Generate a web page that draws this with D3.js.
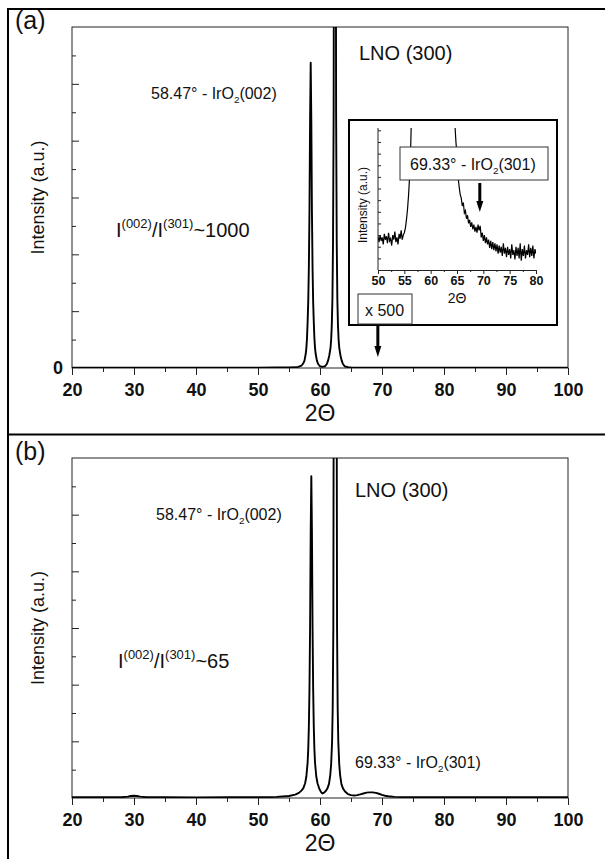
<!DOCTYPE html>
<html>
<head>
<meta charset="utf-8">
<script src="https://cdn.jsdelivr.net/npm/d3@7"></script>
<style>
  body { margin: 0; background: #fff; }
  svg text { font-family: "Liberation Sans", Arial, sans-serif; fill: #111; }
</style>
</head>
<body>
<svg id="chart" width="605" height="859"></svg>
<script>
// XRD DATA (arbitrary intensity units)

// panel (a)
var thetaA = [20, 25, 30, 35, 40, 45, 50, 53, 55, 56, 56.5, 57, 57.3, 57.5, 57.7, 57.8, 57.9, 58, 58.1, 58.2, 58.3, 58.4, 58.5,
  58.6, 58.7, 58.8, 58.9, 59, 59.1, 59.2, 59.3, 59.5, 59.7, 60, 60.4, 60.8, 61.1, 61.3, 61.5, 61.7, 61.8, 61.9, 62, 62.1,
  62.2, 62.3, 62.4, 62.5, 62.6, 62.7, 62.8, 62.9, 63, 63.1, 63.3, 63.5, 63.7, 64, 64.5, 65, 67, 70, 75, 80, 85, 90, 95, 100];
var intA = [0.005, 0.004, 0.006, 0.005, 0.004, 0.005, 0.006, 0.008, 0.01, 0.012, 0.02, 0.04, 0.08, 0.13, 0.25, 0.35, 0.52, 0.8, 1.15, 1.75, 2.75, 4.35, 5.37,
  4.35, 2.75, 1.75, 1.15, 0.8, 0.52, 0.35, 0.25, 0.13, 0.07, 0.03, 0.02, 0.03, 0.07, 0.13, 0.22, 0.36, 0.5, 0.75, 1.2, 2.2,
  4.5, 12, 60, 12, 4.5, 2.2, 1.2, 0.75, 0.5, 0.36, 0.22, 0.13, 0.07, 0.03, 0.015, 0.01, 0.006, 0.005, 0.004, 0.005, 0.004, 0.005, 0.006, 0.005];

// panel (b)
var thetaB = [20, 25, 28, 29, 29.5, 30, 30.5, 31, 32, 35, 40, 45, 50, 53, 55, 56, 56.6, 57, 57.3, 57.6, 57.8, 58, 58.1, 58.2, 58.3, 58.4, 58.5, 58.6,
  58.7, 58.8, 58.9, 59, 59.1, 59.2, 59.4, 59.6, 59.9, 60.2, 60.4, 60.6, 60.9, 61.2, 61.45, 61.65, 61.8, 61.95, 62.05, 62.15, 62.2, 62.25, 62.35, 62.45,
  62.55, 62.65, 62.7, 62.75, 62.85, 62.95, 63.1, 63.25, 63.45, 63.7, 64, 64.5, 65, 65.5, 66, 66.5, 67, 67.5, 68, 68.5, 69, 69.5, 70, 70.5, 71, 72, 74,
  80, 90, 95, 100];
var intB = [0.012, 0.012, 0.015, 0.025, 0.035, 0.04, 0.035, 0.025, 0.015, 0.012, 0.01, 0.012, 0.012, 0.02, 0.035, 0.06, 0.09, 0.13, 0.17, 0.26, 0.38, 0.62, 0.85, 1.25, 1.9, 3.0, 4.7, 5.68,
  4.7, 3.0, 1.9, 1.25, 0.85, 0.62, 0.38, 0.26, 0.16, 0.1, 0.08, 0.09, 0.12, 0.17, 0.25, 0.4, 0.6, 1.0, 1.6, 3.0, 6.5, 8.5, 14, 30,
  14, 8.5, 6.5, 3.0, 1.6, 1.0, 0.6, 0.4, 0.25, 0.17, 0.12, 0.07, 0.05, 0.045, 0.05, 0.065, 0.08, 0.095, 0.1, 0.1, 0.09, 0.075, 0.055, 0.04, 0.03, 0.02, 0.015,
  0.012, 0.012, 0.014, 0.012];

// inset of panel (a), x 500
var thetaInset = [50, 50.2, 50.4, 50.6, 50.8, 51, 51.2, 51.4, 51.6, 51.8, 52, 52.2, 52.4, 52.6, 52.8, 53, 53.2, 53.4, 53.6, 53.8,
  54, 54.2, 54.4, 54.6, 54.8, 55, 55.2, 55.4, 55.6, 55.8, 56, 56.2, 56.4, 56.6, 57, 58.5, 60.4, 62.4, 64, 64.4, 64.6, 64.8,
  65, 65.2, 65.4, 65.6, 65.8, 66, 66.2, 66.4, 66.6, 66.8, 67, 67.2, 67.4, 67.6, 67.8, 68, 68.2, 68.4, 68.6, 68.8, 69, 69.2,
  69.4, 69.6, 69.8, 70, 70.2, 70.4, 70.6, 70.8, 71, 71.2, 71.4, 71.6, 71.8, 72, 72.2, 72.4, 72.6, 72.8, 73, 73.2, 73.4, 73.6,
  73.8, 74, 74.2, 74.4, 74.6, 74.8, 75, 75.2, 75.4, 75.6, 75.8, 76, 76.2, 76.4, 76.6, 76.8, 77, 77.2, 77.4, 77.6, 77.8, 78,
  78.2, 78.4, 78.6, 78.8, 79, 79.2, 79.4, 79.6, 79.8, 80];
var intInset = [2.9, 2.4, 3.0, 2.5, 2.8, 2.2, 3.1, 2.6, 2.9, 2.3, 3.2, 2.5, 2.7, 2.1, 3.0, 2.6, 3.3, 2.4, 2.8, 2.2,
  3.1, 2.7, 3.4, 2.6, 3.0, 3.2, 3.6, 4.3, 5.2, 6.4, 8.0, 10.5, 14, 20, 40, 60, 25, 80, 22, 15, 12.5, 11.0,
  9.8, 8.0, 7.2, 6.5, 6.2, 5.5, 5.8, 4.9, 5.1, 4.4, 4.7, 4.0, 4.3, 3.7, 4.1, 3.5, 3.9, 3.3, 3.7, 3.2, 3.9, 3.4,
  3.8, 2.8, 3.2, 2.5, 3.0, 2.3, 2.8, 2.2, 2.6, 1.9, 2.5, 1.8, 2.4, 1.7, 2.3, 1.6, 2.2, 1.4, 2.1, 1.5, 2.0, 1.2,
  2.3, 1.4, 1.9, 1.1, 2.0, 1.3, 1.8, 1.0, 2.2, 1.3, 1.7, 0.9, 2.0, 1.2, 1.9, 1.0, 2.3, 0.8, 1.8, 1.2, 2.1, 1.0,
  1.7, 1.3, 2.2, 1.1, 1.9, 1.2, 2.1, 1.0, 1.8, 1.4];

// ticks
var xTicks = [20, 30, 40, 50, 60, 70, 80, 90, 100];
var xMinorTicks = [25, 35, 45, 55, 65, 75, 85, 95];
var yMajorTicks = [1, 2, 3, 4, 5];
var yMinorTicks = [0.5, 1.5, 2.5, 3.5, 4.5, 5.5];
var insetXTicks = [50, 55, 60, 65, 70, 75, 80];
var insetXMinor = [52.5, 57.5, 62.5, 67.5, 72.5, 77.5];
var insetYTicks = [1, 2, 3, 4, 5, 6, 7, 8, 9, 10, 11, 12];

var peakPos = 69.33; // IrO2(301)

var svg = d3.select("#chart");
var plotLeft = 72, plotRight = 568;

// outer frame
svg.append("line").attr("x1", 7).attr("x2", 605).attr("y1", 9).attr("y2", 9)
  .attr("stroke", "#000").attr("stroke-width", 2);
svg.append("line").attr("x1", 8).attr("x2", 8).attr("y1", 8).attr("y2", 859)
  .attr("stroke", "#000").attr("stroke-width", 2);
svg.append("line").attr("x1", 7).attr("x2", 605).attr("y1", 434.5).attr("y2", 434.5)
  .attr("stroke", "#000").attr("stroke-width", 2);

function ironLabel(x, y, prefix, hkl, size) {
  var t = svg.append("text").attr("x", x).attr("y", y).attr("font-size", size);
  t.append("tspan").text(prefix + "IrO");
  t.append("tspan").attr("font-size", size * 0.62).attr("dy", 4).text("2");
  t.append("tspan").attr("dy", -4).text("(" + hkl + ")");
}

function ratioLabel(x, y, tail) {
  var t = svg.append("text").attr("x", x).attr("y", y).attr("font-size", 20);
  t.append("tspan").text("I");
  t.append("tspan").attr("font-size", 13).attr("dy", -9).text("(002)");
  t.append("tspan").attr("dy", 9).text("/I");
  t.append("tspan").attr("font-size", 13).attr("dy", -9).text("(301)");
  t.append("tspan").attr("dy", 9).text(tail);
}

function drawPanel(p) {
  var x = d3.scaleLinear().domain([20, 100]).range([plotLeft, plotRight]);
  var y = d3.scaleLinear().domain([0, 6]).range([p.bottom, p.top]);
  var g = svg.append("g");

  g.append("clipPath").attr("id", "clip-" + p.id)
    .append("rect").attr("x", plotLeft).attr("y", p.top)
    .attr("width", plotRight - plotLeft).attr("height", p.bottom - p.top);

  // minor ticks first
  g.append("g").attr("transform", "translate(0," + p.bottom + ")")
    .call(d3.axisBottom(x).tickValues(xMinorTicks).tickSize(4).tickFormat(""))
    .call(function (a) { a.select(".domain").remove(); });
  var xa = g.append("g").attr("transform", "translate(0," + p.bottom + ")")
    .call(d3.axisBottom(x).tickValues(xTicks).tickSize(7).tickPadding(8).tickFormat(d3.format("d")));
  xa.select(".domain").remove();
  xa.selectAll("text").attr("font-size", 18).attr("font-weight", "bold")
    .attr("font-family", '"Liberation Sans", Arial, sans-serif').attr("fill", "#111");

  g.append("g").attr("transform", "translate(" + plotLeft + ",0)")
    .call(d3.axisRight(y).tickValues(yMinorTicks).tickSize(4).tickFormat(""))
    .call(function (a) { a.select(".domain").remove(); });
  g.append("g").attr("transform", "translate(" + plotLeft + ",0)")
    .call(d3.axisRight(y).tickValues(yMajorTicks).tickSize(7).tickFormat(""))
    .call(function (a) { a.select(".domain").remove(); });
  g.selectAll(".tick line").attr("stroke", "#222");

  g.append("rect").attr("x", plotLeft).attr("y", p.top)
    .attr("width", plotRight - plotLeft).attr("height", p.bottom - p.top)
    .attr("fill", "none").attr("stroke", "#222").attr("stroke-width", 1);

  var line = d3.line().x(function (d) { return x(d[0]); }).y(function (d) { return y(d[1]); });
  g.append("path").datum(d3.zip(p.theta, p.intensity))
    .attr("clip-path", "url(#clip-" + p.id + ")")
    .attr("d", line).attr("fill", "none").attr("stroke", "#000")
    .attr("stroke-width", 1.9).attr("stroke-linejoin", "round");

  if (p.zeroLabel) {
    g.append("text").attr("x", plotLeft - 9).attr("y", y(0)).attr("dy", "0.35em")
      .attr("text-anchor", "end").attr("font-size", 18).attr("font-weight", "bold").text("0");
  }

  svg.append("text").attr("x", 15).attr("y", p.top + 2).attr("font-size", 25).text(p.name);
  svg.append("text").attr("transform", "translate(44," + (p.top + p.bottom) / 2 + ")rotate(-90)")
    .attr("text-anchor", "middle").attr("font-size", 18).text("Intensity (a.u.)");
  svg.append("text").attr("x", (plotLeft + plotRight) / 2).attr("y", p.bottom + 53)
    .attr("text-anchor", "middle").attr("font-size", 23).text("2\u0398");

  return { x: x, y: y };
}

// PANEL (a)
var pa = drawPanel({ id: "a", name: "(a)", top: 27, bottom: 368, theta: thetaA, intensity: intA, zeroLabel: true });
svg.append("text").attr("x", 359).attr("y", 60).attr("font-size", 20).text("LNO (300)");
ironLabel(151, 99, "58.47\u00b0 - ", "002", 16);
ratioLabel(116, 237, "~1000");

// inset
var inset = svg.append("g");
inset.append("rect").attr("x", 349).attr("y", 120).attr("width", 208).attr("height", 205)
  .attr("fill", "#fff").attr("stroke", "#000").attr("stroke-width", 2);
var xIn = d3.scaleLinear().domain([50, 80]).range([378, 536]);
var yIn = d3.scaleLinear().domain([0, 12.2]).range([270, 128]);
inset.append("clipPath").attr("id", "clip-inset")
  .append("rect").attr("x", 378).attr("y", 128).attr("width", 158).attr("height", 142);
inset.append("path").datum(d3.zip(thetaInset, intInset))
  .attr("clip-path", "url(#clip-inset)")
  .attr("d", d3.line().x(function (d) { return xIn(d[0]); }).y(function (d) { return yIn(d[1]); }))
  .attr("fill", "none").attr("stroke", "#000").attr("stroke-width", 1.2);
inset.append("g").attr("transform", "translate(0,270)")
  .call(d3.axisBottom(xIn).tickValues(insetXMinor).tickSize(2).tickFormat(""))
  .call(function (a) { a.select(".domain").remove(); });
var ixa = inset.append("g").attr("transform", "translate(0,270)")
  .call(d3.axisBottom(xIn).tickValues(insetXTicks).tickSize(4).tickPadding(2).tickFormat(d3.format("d")));
ixa.selectAll("text").attr("font-size", 12.5).attr("font-weight", "bold")
  .attr("font-family", '"Liberation Sans", Arial, sans-serif').attr("fill", "#111");
inset.append("g").attr("transform", "translate(378,0)")
  .call(d3.axisRight(yIn).tickValues(insetYTicks).tickSize(3).tickFormat(""))
  .call(function (a) { a.select(".domain").remove(); });
inset.append("line").attr("x1", 378).attr("x2", 378).attr("y1", 128).attr("y2", 270).attr("stroke", "#222");
inset.selectAll(".domain, .tick line").attr("stroke", "#222");
inset.append("text").attr("transform", "translate(367,205)rotate(-90)")
  .attr("text-anchor", "middle").attr("font-size", 12).text("Intensity (a.u.)");
inset.append("text").attr("x", 457).attr("y", 303).attr("text-anchor", "middle")
  .attr("font-size", 14).text("2\u0398");

svg.append("rect").attr("x", 400).attr("y", 147).attr("width", 148).attr("height", 33)
  .attr("fill", "#fff").attr("stroke", "#333").attr("stroke-width", 1);
ironLabel(410, 170, "69.33\u00b0 - ", "301", 16);
svg.append("rect").attr("x", 358).attr("y", 294).attr("width", 54).attr("height", 30)
  .attr("fill", "#fff").attr("stroke", "#333").attr("stroke-width", 1);
svg.append("text").attr("x", 365).attr("y", 316).attr("font-size", 16).text("x 500");

function arrow(xPos, y0, y1) {
  svg.append("line").attr("x1", xPos).attr("x2", xPos).attr("y1", y0).attr("y2", y1 - 9)
    .attr("stroke", "#000").attr("stroke-width", 3);
  svg.append("path")
    .attr("d", "M" + (xPos - 3.5) + "," + (y1 - 11) + "L" + (xPos + 3.5) + "," + (y1 - 11) + "L" + xPos + "," + y1 + "Z")
    .attr("fill", "#000");
}
arrow(pa.x(peakPos), 325, 357);
arrow(xIn(peakPos), 183, 212);

// PANEL (b)
var pb = drawPanel({ id: "b", name: "(b)", top: 458, bottom: 798, theta: thetaB, intensity: intB, zeroLabel: false });
svg.append("text").attr("x", 355).attr("y", 497).attr("font-size", 20).text("LNO (300)");
ironLabel(156, 520, "58.47\u00b0 - ", "002", 16);
ratioLabel(118, 668, "~65");
ironLabel(355, 768, "69.33\u00b0 - ", "301", 16);
</script>
</body>
</html>
